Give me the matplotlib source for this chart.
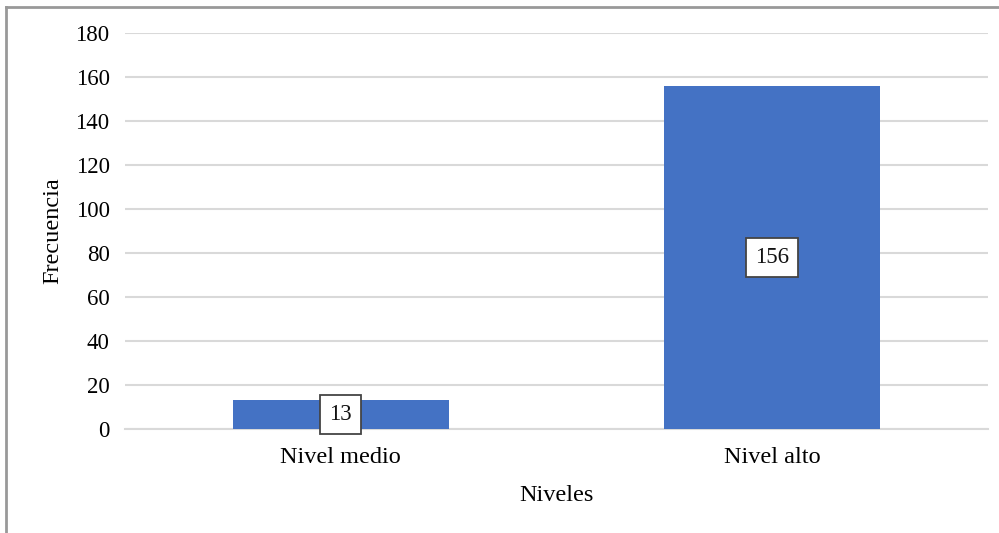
import matplotlib
matplotlib.use("Agg")
import matplotlib.pyplot as plt
from matplotlib.lines import Line2D

categories = ["Nivel medio", "Nivel alto"]
values = [13, 156]
yticks = [0, 20, 40, 60, 80, 100, 120, 140, 160, 180]

plt.rcParams['font.family'] = ['Liberation Serif', 'DejaVu Serif']

fig = plt.figure(figsize=(9.99, 5.33), dpi=100)
ax = fig.add_axes([0.125, 0.195, 0.864, 0.743])

x = list(range(len(categories)))
ax.bar(x, values, width=0.5, color='#4472C4', zorder=3)
for xi, v in zip(x, values):
    ax.text(xi, v / 2, str(v), ha='center', va='center', fontsize=16.5, color='#111111',
            zorder=4,
            bbox=dict(boxstyle='square,pad=0.4', facecolor='white', edgecolor='#444444', linewidth=1.3))

ax.set_xlim(-0.5, 1.5)
ax.set_ylim(0, 180)
ax.set_yticks(yticks)
ax.set_xticks(x)
ax.set_xticklabels(categories, fontsize=17.5)
ax.tick_params(axis='y', labelsize=16.5, length=0, pad=11)
ax.tick_params(axis='x', length=0, pad=13)
ax.yaxis.grid(True, color='#d9d9d9', linewidth=1.5, zorder=0)
ax.set_axisbelow(True)
for s in ['top', 'right', 'left']:
    ax.spines[s].set_visible(False)
ax.spines['bottom'].set_color('#d9d9d9')
ax.spines['bottom'].set_linewidth(1.5)

ax.set_xlabel('Niveles', fontsize=17.5, labelpad=12)
ax.set_ylabel('Frecuencia', fontsize=17.5, labelpad=9)

# figure border (top and left)
fig.add_artist(Line2D([6/999, 1], [1 - 6.5/533, 1 - 6.5/533], transform=fig.transFigure, color='#999999', linewidth=2))
fig.add_artist(Line2D([6/999, 6/999], [0, 1 - 6.5/533], transform=fig.transFigure, color='#999999', linewidth=2))

fig.savefig('out.png', dpi=100)
